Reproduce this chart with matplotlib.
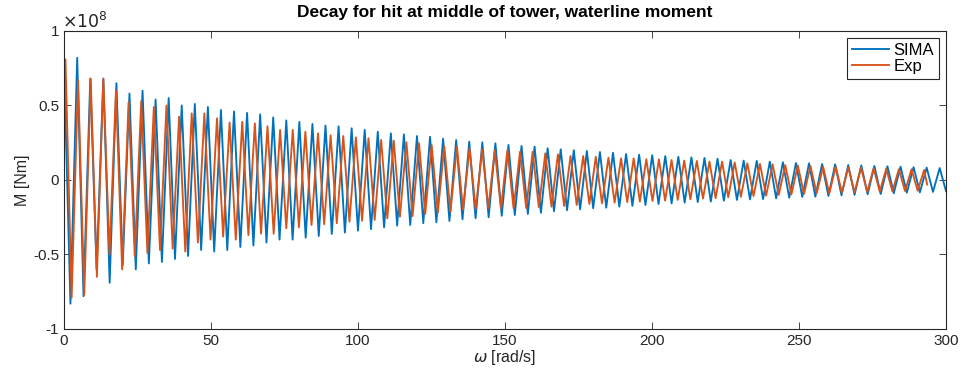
import numpy as np
import matplotlib
matplotlib.use('Agg')
import matplotlib.pyplot as plt

plt.rcParams['font.family'] = ['Liberation Sans', 'DejaVu Sans']
plt.rcParams['mathtext.fontset'] = 'dejavusans'

# Values, moment in units of 1e8 Nm.
# Each list holds one extremum per oscillation cycle.

# SIMA: peaks start at t=0.05, troughs at t=2.2, one cycle every 4.445 rad/s
sima_period = 4.445
sima_peak_t0 = 0.05
sima_trough_t0 = 2.2
sima_peaks = [0.75, 0.82, 0.68, 0.68, 0.65, 0.58, 0.60, 0.54, 0.55, 0.50,
              0.51, 0.49, 0.47, 0.46, 0.45, 0.44, 0.42,
              0.40, 0.39, 0.376, 0.365, 0.36, 0.347, 0.336, 0.324, 0.313,
              0.306, 0.295, 0.29, 0.277, 0.268, 0.257, 0.253, 0.246,
              0.235, 0.228, 0.224, 0.213, 0.206, 0.20, 0.195, 0.188, 0.183,
              0.174, 0.17, 0.166, 0.16, 0.156, 0.152, 0.148, 0.143,
              0.134, 0.13, 0.128, 0.123, 0.119, 0.114, 0.112, 0.107, 0.105,
              0.10, 0.098, 0.094, 0.092, 0.089, 0.086, 0.083, 0.08]
sima_troughs = [-0.83, -0.78, -0.60, -0.69, -0.57, -0.60, -0.56, -0.55, -0.53,
                -0.51, -0.47, -0.48, -0.47, -0.45, -0.44, -0.42, -0.40,
                -0.40, -0.387, -0.376, -0.362, -0.353, -0.34, -0.33, -0.318,
                -0.306, -0.302, -0.29, -0.284, -0.275, -0.264, -0.257, -0.25, -0.24,
                -0.235, -0.228, -0.22, -0.21, -0.203, -0.197, -0.19, -0.186,
                -0.179, -0.174, -0.168, -0.161, -0.157, -0.152, -0.148, -0.145, -0.139,
                -0.134, -0.13, -0.128, -0.123, -0.119, -0.114, -0.112, -0.107,
                -0.103, -0.10, -0.096, -0.094, -0.089, -0.085, -0.083, -0.08, -0.075]

# Exp: slightly shorter period, 4.295 rad/s per cycle, stops just before 294
exp_period = 4.295
exp_peak_t0 = 0.5
exp_trough_t0 = 2.6
exp_start = 0.35
exp_end_t = 293.6
exp_end = -0.03
exp_peaks = [0.81, 0.67, 0.68, 0.68, 0.60, 0.52, 0.53, 0.49, 0.50, 0.425,
             0.447, 0.447, 0.414, 0.385, 0.39, 0.38, 0.36,
             0.336, 0.336, 0.324, 0.313, 0.30, 0.295, 0.286, 0.28, 0.268,
             0.264, 0.253, 0.246, 0.235, 0.228, 0.224, 0.213, 0.206, 0.20,
             0.20, 0.19, 0.19, 0.179, 0.172, 0.161, 0.161, 0.156, 0.15,
             0.145, 0.145, 0.139, 0.139, 0.134, 0.13, 0.128, 0.123, 0.123,
             0.118, 0.112, 0.108, 0.105, 0.10, 0.097, 0.094, 0.089, 0.089,
             0.085, 0.083, 0.078, 0.076, 0.072, 0.072, 0.067]
exp_troughs = [-0.79, -0.77, -0.65, -0.50, -0.60, -0.51, -0.49, -0.47, -0.46,
               -0.48, -0.42, -0.40, -0.38, -0.40, -0.37, -0.36, -0.36,
               -0.324, -0.318, -0.302, -0.297, -0.29, -0.28, -0.273, -0.268,
               -0.257, -0.246, -0.242, -0.228, -0.22, -0.213, -0.20, -0.197, -0.19,
               -0.192, -0.19, -0.188, -0.183, -0.179, -0.174, -0.168, -0.161,
               -0.157, -0.152, -0.148, -0.145, -0.141, -0.139, -0.134, -0.13,
               -0.125, -0.122,
               -0.116, -0.113, -0.108, -0.105, -0.10, -0.097, -0.094, -0.09,
               -0.09, -0.085, -0.083, -0.08, -0.078, -0.076, -0.074, -0.072]

x_ticks = [0, 50, 100, 150, 200, 250, 300]
y_ticks = [-1, -0.5, 0, 0.5, 1]
y_tick_labels = ['-1', '-0.5', '0', '0.5', '1']


def zigzag(peaks, troughs, t_peak0, t_trough0, period):
    """Join the read extrema in time order"""
    tp = t_peak0 + period * np.arange(len(peaks))
    tt = t_trough0 + period * np.arange(len(troughs))
    t = np.concatenate([tp, tt])
    v = np.concatenate([peaks, troughs])
    order = np.argsort(t)
    return t[order], v[order]


sima_t, sima_v = zigzag(sima_peaks, sima_troughs, sima_peak_t0, sima_trough_t0, sima_period)
exp_t, exp_v = zigzag(exp_peaks, exp_troughs, exp_peak_t0, exp_trough_t0, exp_period)
exp_t = np.concatenate([[0.0], exp_t, [exp_end_t]])
exp_v = np.concatenate([[exp_start], exp_v, [exp_end]])

fig = plt.figure(figsize=(9.65, 3.85), dpi=100)
ax = fig.add_axes([0.0663, 0.1455, 0.914, 0.774])

ax.plot(sima_t, sima_v, color='#0072BD', linewidth=1.35, label='SIMA',
        solid_joinstyle='round')
ax.plot(exp_t, exp_v, color='#D95319', linewidth=1.35, label='Exp',
        solid_joinstyle='round')

ax.set_xlim(0, 300)
ax.set_ylim(-1, 1)
ax.set_xticks(x_ticks)
ax.set_yticks(y_ticks)
ax.set_yticklabels(y_tick_labels)

axis_col = '#262626'
for s in ax.spines.values():
    s.set_color(axis_col)
    s.set_linewidth(0.8)
ax.tick_params(direction='in', top=True, right=True, length=5, width=0.6,
               colors=axis_col, labelsize=11, labelcolor=axis_col)

ax.text(-0.002, 1.0, r'$\times10^{8}$', transform=ax.transAxes, fontsize=12.5,
        color=axis_col, ha='left', va='bottom')

ax.set_title('Decay for hit at middle of tower, waterline moment',
             fontsize=12.5, fontweight='bold', color='black', pad=10)
ax.set_xlabel(r'$\omega$ [rad/s]', fontsize=11.5, color=axis_col, labelpad=0)
ax.set_ylabel('M [Nm]', fontsize=11.5, color=axis_col, labelpad=2)

leg = ax.legend(loc='upper right', fancybox=False, edgecolor=axis_col,
                fontsize=12, handlelength=2.2, handletextpad=0.3,
                borderpad=0.3, labelspacing=0.1, borderaxespad=0.4,
                framealpha=1)
leg.get_frame().set_linewidth(0.8)

fig.savefig('out.png', dpi=100)
